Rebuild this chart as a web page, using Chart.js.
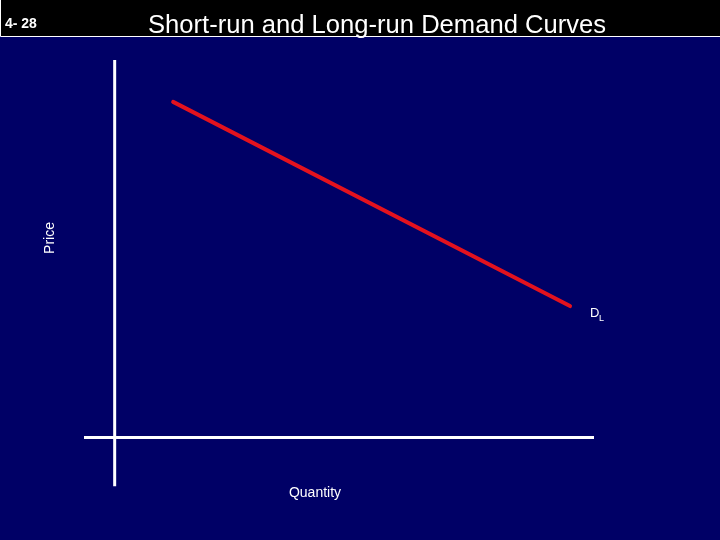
<!DOCTYPE html>
<html>
<head>
<meta charset="utf-8">
<script src="https://cdn.jsdelivr.net/npm/chart.js@4/dist/chart.umd.min.js"></script>
<style>
  html, body { margin: 0; padding: 0; background: #000066; }
  #wrap { width: 720px; height: 540px; }
</style>
</head>
<body>
<div id="wrap"><canvas id="chart" width="720" height="540"></canvas></div>
<script>
// ============================================================
// Data (quantity / price units, origin at the axes crossing)
// ============================================================
const demandQty = [1.22, 9.5];
const demandPrice = [8.89, 3.48];

const qtyAxisX = [-0.64, 10];
const qtyAxisY = [0, 0];
const priceAxisX = [0, 0];
const priceAxisY = [-1.3, 10];

const xRange = [-0.64, 10];
const yRange = [-1.3, 10];

const TITLE = "Short-run and Long-run Demand Curves";
const SLIDE_NO = "4- 28";

// ============================================================
// Helpers
// ============================================================
const toPoints = (xs, ys) => xs.map((x, i) => ({ x, y: ys[i] }));

const slidePlugin = {
  id: "slide",
  beforeDraw(chart) {
    const { ctx, width, height } = chart;
    ctx.save();
    ctx.fillStyle = "#000066";
    ctx.fillRect(0, 0, width, height);
    ctx.fillStyle = "#000000";
    ctx.fillRect(0, 0, width, 36);
    ctx.strokeStyle = "#ffffff";
    ctx.lineWidth = 1;
    ctx.beginPath();
    ctx.moveTo(0.5, 0);
    ctx.lineTo(0.5, 36.5);
    ctx.lineTo(width, 36.5);
    ctx.stroke();
    ctx.restore();
  },
  afterDraw(chart) {
    const { ctx } = chart;
    const xs = chart.scales.x;
    const ys = chart.scales.y;
    ctx.save();
    ctx.fillStyle = "#ffffff";

    ctx.font = "25.6px 'Liberation Sans', Arial, sans-serif";
    ctx.textAlign = "center";
    ctx.textBaseline = "alphabetic";
    ctx.fillText(TITLE, 377, 33);

    ctx.font = "bold 14px 'Liberation Sans', Arial, sans-serif";
    ctx.textAlign = "left";
    ctx.fillText(SLIDE_NO, 5, 28);

    // axis titles
    ctx.font = "14px 'Liberation Sans', Arial, sans-serif";
    ctx.textAlign = "center";
    ctx.textBaseline = "middle";
    ctx.fillText("Quantity", 315, 493);
    ctx.save();
    ctx.translate(50, 238);
    ctx.rotate(-Math.PI / 2);
    ctx.fillText("Price", 0, 0);
    ctx.restore();

    // curve label next to the end of the demand line
    const n = demandQty.length - 1;
    const px = xs.getPixelForValue(demandQty[n]) + 20;
    const py = ys.getPixelForValue(demandPrice[n]) + 11;
    ctx.textAlign = "left";
    ctx.textBaseline = "alphabetic";
    ctx.font = "13px 'Liberation Sans', Arial, sans-serif";
    ctx.fillText("D", px, py);
    ctx.font = "9px 'Liberation Sans', Arial, sans-serif";
    ctx.fillText("L", px + 9, py + 4);
    ctx.restore();
  },
};

// ============================================================
// Chart
// ============================================================
new Chart(document.getElementById("chart"), {
  type: "scatter",
  data: {
    datasets: [
      {
        data: toPoints(priceAxisX, priceAxisY),
        showLine: true,
        borderColor: "#ffffff",
        borderWidth: 3,
        borderCapStyle: "butt",
        pointRadius: 0,
      },
      {
        data: toPoints(qtyAxisX, qtyAxisY),
        showLine: true,
        borderColor: "#ffffff",
        borderWidth: 3,
        borderCapStyle: "butt",
        pointRadius: 0,
      },
      {
        data: toPoints(demandQty, demandPrice),
        showLine: true,
        borderColor: "#e3121e",
        borderWidth: 4,
        borderCapStyle: "round",
        pointRadius: 0,
      },
    ],
  },
  options: {
    responsive: false,
    animation: false,
    devicePixelRatio: 1,
    layout: { padding: { left: 84, right: 126, top: 60, bottom: 53.5 } },
    plugins: { legend: { display: false }, tooltip: { enabled: false } },
    scales: {
      x: { type: "linear", display: false, min: xRange[0], max: xRange[1] },
      y: { type: "linear", display: false, min: yRange[0], max: yRange[1] },
    },
  },
  plugins: [slidePlugin],
});
</script>
</body>
</html>
